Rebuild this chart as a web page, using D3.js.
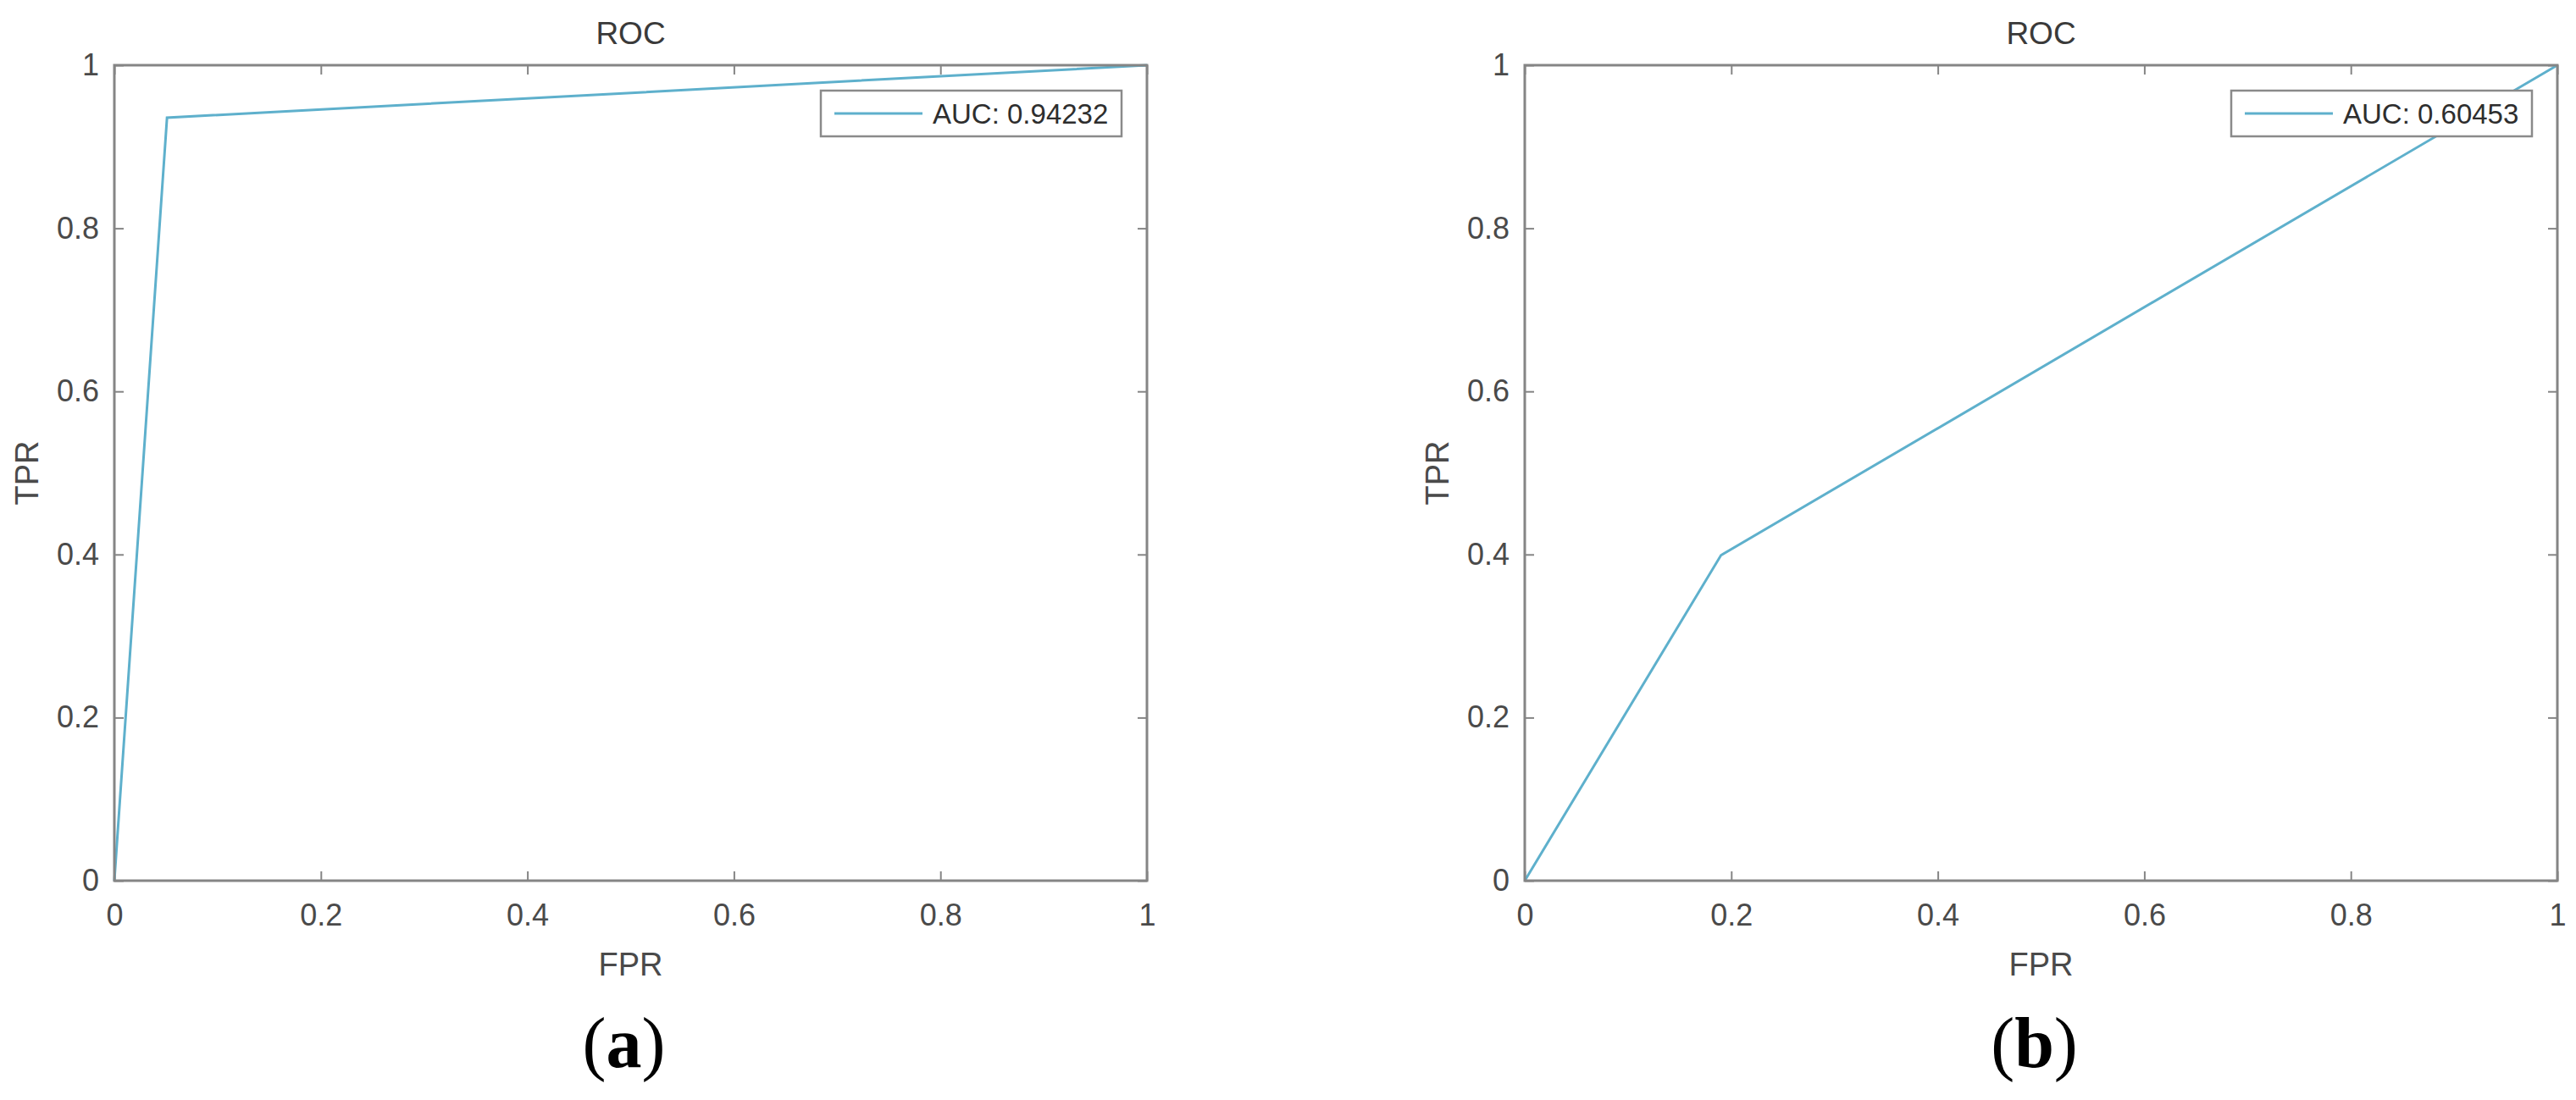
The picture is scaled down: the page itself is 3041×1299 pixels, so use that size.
<!DOCTYPE html>
<html>
<head>
<meta charset="utf-8">
<script src="https://cdn.jsdelivr.net/npm/d3@7"></script>
<style>
  html, body { margin: 0; padding: 0; background: #ffffff; }
  svg { display: block; }
</style>
</head>
<body>
<svg id="chart" width="3041" height="1299"></svg>
<script>
// ---- data ----
const fprA = [0, 0.051, 1];
const tprA = [0, 0.9356, 1];
const fprB = [0, 0.19, 1];
const tprB = [0, 0.399, 1];
const aucLabels = ["AUC: 0.94232", "AUC: 0.60453"];
const panelLabels = ["a", "b"];
const tickValues = [0, 0.2, 0.4, 0.6, 0.8, 1];
const tickLabels = ["0", "0.2", "0.4", "0.6", "0.8", "1"];
const chartTitle = "ROC";
const xTitle = "FPR";
const yTitle = "TPR";

// ---- layout ----
const panels = [
  { left: 135, right: 1354, fpr: fprA, tpr: tprA, auc: aucLabels[0], tag: panelLabels[0] },
  { left: 1800, right: 3019, fpr: fprB, tpr: tprB, auc: aucLabels[1], tag: panelLabels[1] }
];
const plotTop = 77, plotBottom = 1040;
const axisColor = "#858585";
const textColor = "#4a4a4a";
const lineColor = "#5eb0cc";
const font = "'Liberation Sans', Arial, Helvetica, sans-serif";

const svg = d3.select("#chart");

panels.forEach(p => {
  const x = d3.scaleLinear().domain([0, 1]).range([p.left, p.right]);
  const y = d3.scaleLinear().domain([0, 1]).range([plotBottom, plotTop]);
  const fmt = (d) => tickLabels[tickValues.indexOf(d)];
  const g = svg.append("g");

  g.append("rect")
    .attr("x", p.left).attr("y", plotTop)
    .attr("width", p.right - p.left).attr("height", plotBottom - plotTop)
    .attr("fill", "#fff");

  const gx = g.append("g").attr("transform", `translate(0,${plotBottom})`)
    .call(d3.axisBottom(x).tickValues(tickValues).tickFormat(fmt)
      .tickSizeInner(-11).tickSizeOuter(0).tickPadding(27));
  const gxt = g.append("g").attr("transform", `translate(0,${plotTop})`)
    .call(d3.axisTop(x).tickValues(tickValues).tickFormat("")
      .tickSizeInner(-11).tickSizeOuter(0));
  const gy = g.append("g").attr("transform", `translate(${p.left},0)`)
    .call(d3.axisLeft(y).tickValues(tickValues).tickFormat(fmt)
      .tickSizeInner(-11).tickSizeOuter(0).tickPadding(18));
  const gyr = g.append("g").attr("transform", `translate(${p.right},0)`)
    .call(d3.axisRight(y).tickValues(tickValues).tickFormat("")
      .tickSizeInner(-11).tickSizeOuter(0));

  [gx, gxt, gy, gyr].forEach(a => {
    a.select(".domain").remove();
    a.selectAll(".tick line").attr("stroke", axisColor).attr("stroke-width", 2);
    a.selectAll(".tick text")
      .attr("fill", textColor)
      .attr("font-family", font)
      .attr("font-size", 36);
  });

  const pts = p.fpr.map((v, i) => [v, p.tpr[i]]);
  const line = d3.line().x(d => x(d[0])).y(d => y(d[1]));
  g.append("path")
    .datum(pts)
    .attr("d", line)
    .attr("fill", "none")
    .attr("stroke", lineColor)
    .attr("stroke-width", 3)
    .attr("stroke-linejoin", "miter");

  g.append("rect")
    .attr("x", p.left).attr("y", plotTop)
    .attr("width", p.right - p.left).attr("height", plotBottom - plotTop)
    .attr("fill", "none")
    .attr("stroke", axisColor)
    .attr("stroke-width", 3);

  const lgW = 355, lgH = 54;
  const lgX = p.right - 30 - lgW, lgY = 107;
  g.append("rect")
    .attr("x", lgX).attr("y", lgY).attr("width", lgW).attr("height", lgH)
    .attr("fill", "#fff").attr("stroke", "#8a8a8a").attr("stroke-width", 2.5);
  g.append("line")
    .attr("x1", lgX + 16).attr("x2", lgX + 120)
    .attr("y1", lgY + lgH / 2).attr("y2", lgY + lgH / 2)
    .attr("stroke", lineColor).attr("stroke-width", 3);
  g.append("text")
    .attr("x", lgX + 132).attr("y", lgY + lgH / 2)
    .attr("dy", "0.36em")
    .attr("font-family", font).attr("font-size", 33)
    .attr("fill", "#2e2e2e")
    .text(p.auc);

  const cx = (p.left + p.right) / 2;
  g.append("text")
    .attr("x", cx).attr("y", 52)
    .attr("text-anchor", "middle")
    .attr("font-family", font).attr("font-size", 37)
    .attr("fill", "#3a3a3a")
    .text(chartTitle);
  g.append("text")
    .attr("x", cx).attr("y", 1152)
    .attr("text-anchor", "middle")
    .attr("font-family", font).attr("font-size", 38)
    .attr("fill", textColor)
    .text(xTitle);
  g.append("text")
    .attr("transform", `translate(${p.left - 90},${(plotTop + plotBottom) / 2}) rotate(-90)`)
    .attr("text-anchor", "middle")
    .attr("font-family", font).attr("font-size", 38)
    .attr("fill", textColor)
    .text(yTitle);
  const t = g.append("text")
    .attr("x", cx - 8).attr("y", 1260)
    .attr("text-anchor", "middle")
    .attr("font-family", "'Liberation Serif', 'Times New Roman', serif")
    .attr("font-size", 84)
    .attr("fill", "#000");
  t.append("tspan").text("(");
  t.append("tspan").attr("font-weight", "bold").text(p.tag);
  t.append("tspan").text(")");
});
</script>
</body>
</html>
